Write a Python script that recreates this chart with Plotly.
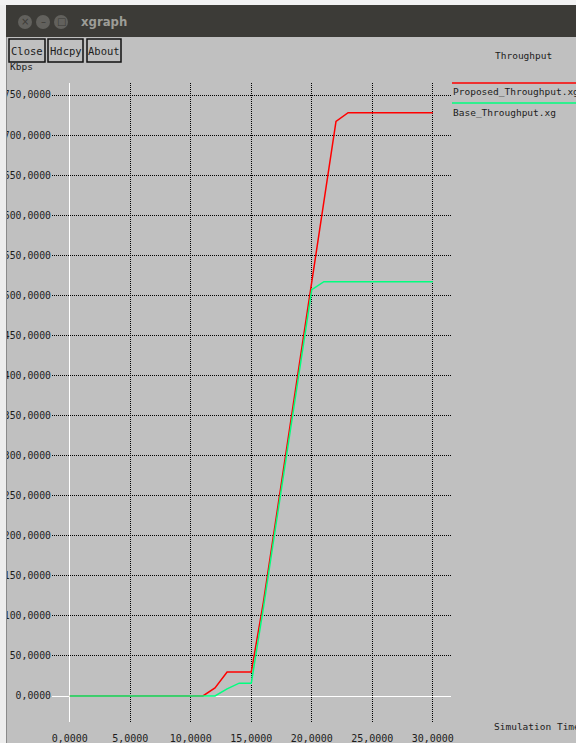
import plotly.graph_objects as go

# ---------------- data ----------------
time_s = list(range(0, 31))
proposed_kbps = [0, 0, 0, 0, 0, 0, 0, 0, 0, 0, 0, 0, 10, 30, 30, 30,
                 117, 217, 317, 417, 517, 617, 717, 728, 728, 728, 728, 728, 728, 728, 728]
base_kbps = [0, 0, 0, 0, 0, 0, 0, 0, 0, 0, 0, 0, 0, 9, 16, 16,
             110, 210, 310, 410, 507, 517, 517, 517, 517, 517, 517, 517, 517, 517, 517]
series_names = ["Proposed_Throughput.xg", "Base_Throughput.xg"]
x_ticks = [0, 5, 10, 15, 20, 25, 30]
y_ticks = list(range(0, 751, 50))
x_tick_text = [f"{v:.4f}".replace(".", ",") for v in x_ticks]
y_tick_text = [f"{v:.4f}".replace(".", ",") for v in y_ticks]

# ---------------- geometry helpers (pixel -> paper) ----------------
W, H = 576, 743
L, R, T, B = 52, 451, 83, 722


def px(x):
    return (x - L) / (R - L)


def py(y):
    return (B - y) / (B - T)


MONO = "DejaVu Sans Mono"
TXT = "#1c1c1c"
RED = "#ff0000"
GREEN = "#00ff7f"

fig = go.Figure()
fig.add_trace(go.Scatter(x=time_s, y=proposed_kbps, mode="lines",
                         line=dict(color=RED, width=1.5), name=series_names[0]))
fig.add_trace(go.Scatter(x=time_s, y=base_kbps, mode="lines",
                         line=dict(color=GREEN, width=1.5), name=series_names[1]))

shapes = []
annotations = []

# left strip and top strip (edge of the screenshot)
shapes.append(dict(type="rect", xref="paper", yref="paper", x0=px(0), x1=px(6), y0=py(743), y1=py(0),
                   fillcolor="#ededed", line=dict(width=0), layer="above"))
shapes.append(dict(type="line", xref="paper", yref="paper", x0=px(6.5), x1=px(6.5), y0=py(743), y1=py(37),
                   line=dict(color="#8a8a8a", width=1), layer="above"))
shapes.append(dict(type="rect", xref="paper", yref="paper", x0=px(0), x1=px(576), y0=py(5), y1=py(0),
                   fillcolor="#f2f2f2", line=dict(width=0), layer="above"))
# title bar
shapes.append(dict(type="rect", xref="paper", yref="paper", x0=px(6), x1=px(576), y0=py(37), y1=py(5),
                   fillcolor="#3c3b37", line=dict(width=0), layer="above"))
# window buttons (inactive, gray)
for cx in (25, 43, 61):
    shapes.append(dict(type="circle", xref="paper", yref="paper", x0=px(cx - 7), x1=px(cx + 7),
                       y0=py(22 + 7), y1=py(22 - 7), fillcolor="#62615d", line=dict(width=0), layer="above"))
for cx, g in ((25, "×"), (43, "–"), (61, "□")):
    annotations.append(dict(xref="paper", yref="paper", x=px(cx), y=py(22), text=g, showarrow=False,
                            xanchor="center", yanchor="middle",
                            font=dict(family="DejaVu Sans", size=10, color="#3c3b37")))
annotations.append(dict(xref="paper", yref="paper", x=px(79), y=py(22), text="<b>xgraph</b>", showarrow=False,
                        xanchor="left", yanchor="middle",
                        font=dict(family="DejaVu Sans Condensed", size=13, color="#9d9d97")))

# "Kbps" axis unit label (partly hidden under the buttons)
annotations.append(dict(xref="paper", yref="paper", x=px(8), y=py(66), text="Kbps", showarrow=False,
                        xanchor="left", yanchor="middle", font=dict(family=MONO, size=9.5, color=TXT)))

# xgraph buttons
for label, bx0, bx1 in (("Close", 9, 45), ("Hdcpy", 48, 83), ("About", 87, 121)):
    shapes.append(dict(type="rect", xref="paper", yref="paper", x0=px(bx0), x1=px(bx1), y0=py(62), y1=py(39),
                       fillcolor="#c0c0c0", line=dict(color="#111111", width=1.5), layer="above"))
    annotations.append(dict(xref="paper", yref="paper", x=px((bx0 + bx1) / 2), y=py(51), text=label,
                            showarrow=False, xanchor="center", yanchor="middle",
                            font=dict(family=MONO, size=10.5, color=TXT)))

# plot title and x-axis label
annotations.append(dict(xref="paper", yref="paper", x=px(493), y=py(55), text="Throughput", showarrow=False,
                        xanchor="left", yanchor="middle", font=dict(family=MONO, size=9.5, color=TXT)))
annotations.append(dict(xref="paper", yref="paper", x=px(492), y=py(727), text="Simulation Time",
                        showarrow=False, xanchor="left", yanchor="middle",
                        font=dict(family=MONO, size=9.5, color=TXT)))

# legend (xgraph style: coloured line above each name)
for name, col, ly in ((series_names[0], RED, 83), (series_names[1], GREEN, 103)):
    shapes.append(dict(type="line", xref="paper", yref="paper", x0=px(452), x1=px(580), y0=py(ly), y1=py(ly),
                       line=dict(color=col, width=1.5), layer="above"))
    annotations.append(dict(xref="paper", yref="paper", x=px(451), y=py(ly + 9), text=name, showarrow=False,
                            xanchor="left", yanchor="middle", font=dict(family=MONO, size=9.5, color=TXT)))

axis_common = dict(
    showline=False, ticks="", zeroline=True, zerolinecolor="#ffffff", zerolinewidth=1,
    showgrid=True, gridcolor="#000000", gridwidth=1, griddash="1px,1px",
    automargin=False, fixedrange=True,
)

fig.update_layout(
    width=W, height=H,
    margin=dict(l=L, r=W - R, t=T, b=H - B, pad=0),
    paper_bgcolor="#c0c0c0", plot_bgcolor="#c0c0c0",
    showlegend=False, template="none",
    shapes=shapes, annotations=annotations,
    xaxis=dict(range=[(L - 69.8) / 12.1, (R - 69.8) / 12.1], tickmode="array",
               tickvals=x_ticks, ticktext=x_tick_text, ticklabelstandoff=9,
               tickfont=dict(family=MONO, size=10, color=TXT), **axis_common),
    yaxis=dict(range=[-(B - 696) / 0.80133, (696 - T) / 0.80133], tickmode="array",
               tickvals=y_ticks, ticktext=y_tick_text, ticklabelstandoff=0,
               tickfont=dict(family=MONO, size=9.8, color=TXT), **axis_common),
)

fig.write_html("out.html", config={"displayModeBar": False})
